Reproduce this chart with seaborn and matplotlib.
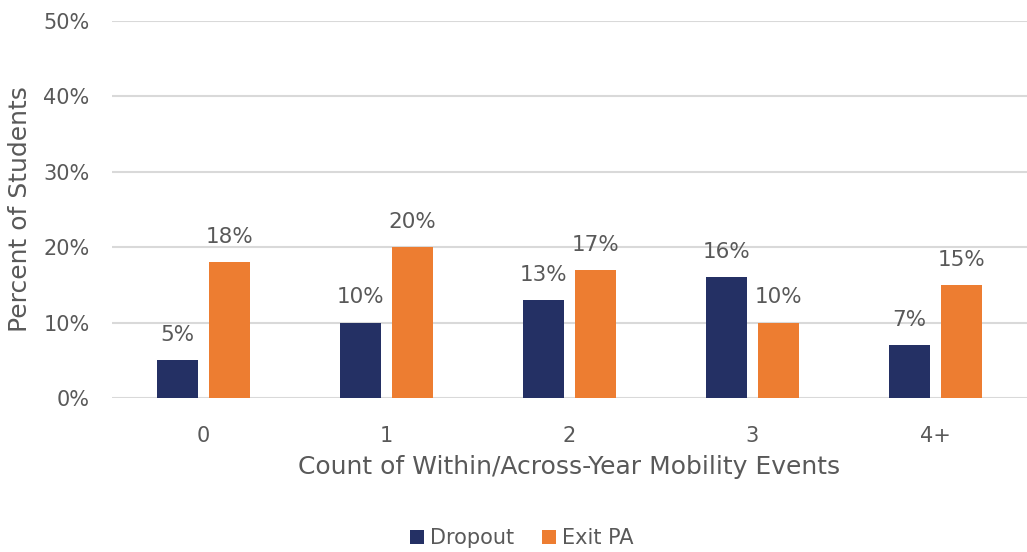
import matplotlib
matplotlib.use("Agg")
import matplotlib.pyplot as plt
import seaborn as sns
import pandas as pd

categories = ["0", "1", "2", "3", "4+"]
dropout = [5, 10, 13, 16, 7]
exit_pa = [18, 20, 17, 10, 15]
series_names = ["Dropout", "Exit PA"]
yticks = [0, 10, 20, 30, 40, 50]

sns.set_theme(style="white")
plt.rcParams['font.family'] = ['DejaVu Sans']
gray = "#595959"

df = pd.DataFrame({
    "cat": categories * 2,
    "val": dropout + exit_pa,
    "series": [series_names[0]] * len(categories) + [series_names[1]] * len(categories),
})

fig = plt.figure(figsize=(10.27, 5.52), dpi=100)
ax = fig.add_axes([0.109, 0.279, 0.891, 0.683])
sns.barplot(data=df, x="cat", y="val", hue="series", order=categories,
            hue_order=series_names, palette=["#243064", "#ED7D31"],
            width=0.568, gap=0.21, ax=ax, saturation=1, legend=True,
            linewidth=0)

ax.set_ylim(0, 50)
ax.set_xlim(-0.5, 4.5)
ax.set_yticks(yticks)
ax.set_yticklabels([f"{v}%" for v in yticks], fontsize=15, color=gray)
ax.tick_params(axis='x', labelsize=15, colors=gray, length=0, pad=20)
ax.tick_params(axis='y', length=0, pad=16)
ax.yaxis.grid(True, color="#D9D9D9", linewidth=1.5)
ax.set_axisbelow(True)
for s in ax.spines.values():
    s.set_visible(False)

for cont in ax.containers:
    ax.bar_label(cont, labels=[f"{v:.0f}%" for v in cont.datavalues],
                 padding=11, fontsize=15.5, color=gray)

ax.set_xlabel("Count of Within/Across-Year Mobility Events", fontsize=18, color=gray, labelpad=7)
ax.set_ylabel("Percent of Students", fontsize=18, color=gray, labelpad=8)

h, l = ax.get_legend_handles_labels()
ax.legend_.remove()
fig.legend(h, l, loc="center", bbox_to_anchor=(0.508, 0.025), ncol=2, frameon=False,
           fontsize=15, labelcolor=gray, handlelength=0.7, handleheight=0.7,
           handletextpad=0.3, columnspacing=1.3)

fig.savefig("out.png", dpi=100)
